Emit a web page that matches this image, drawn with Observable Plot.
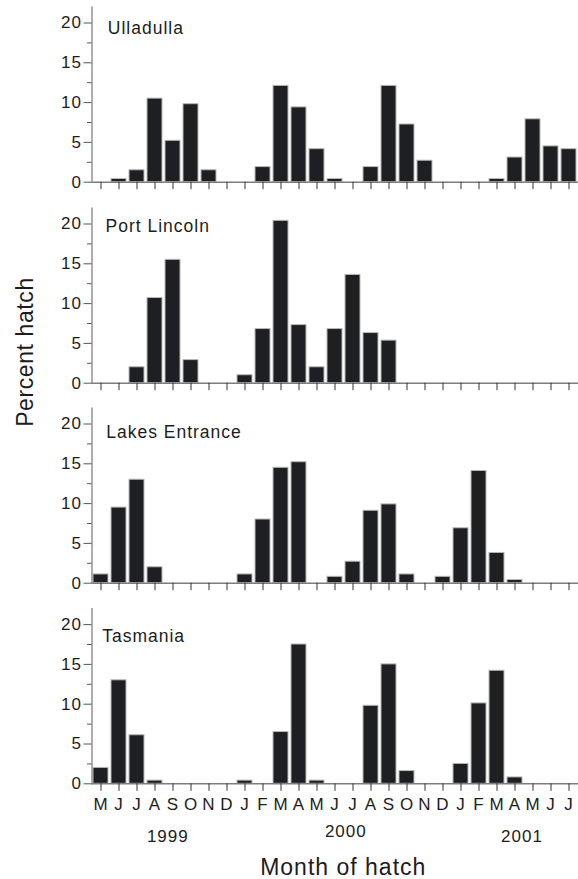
<!DOCTYPE html>
<html>
<head>
<meta charset="utf-8">
<script src="https://cdn.jsdelivr.net/npm/d3@7"></script>
<script src="https://cdn.jsdelivr.net/npm/@observablehq/plot@0.6"></script>
<style>
  body { margin: 0; background: #fff; }
  #wrap { position: relative; width: 578px; height: 879px; overflow: hidden; font-family: "Liberation Sans", Arial, sans-serif; color: #1c1c1c; }
  #wrap > svg { position: absolute; left: 0; }
  #ylab { position: absolute; left: 25px; top: 352px; transform: translate(-50%, -50%) rotate(-90deg); font-size: 23px; white-space: nowrap; letter-spacing: 0.6px; }
</style>
</head>
<body>
<div id="wrap"><div id="ylab">Percent hatch</div></div>
<script>
// ---- data ----
const months = ["M","J","J","A","S","O","N","D","J","F","M","A","M","J","J","A","S","O","N","D","J","F","M","A","M","J","J"];
const sites = ["Ulladulla", "Port Lincoln", "Lakes Entrance", "Tasmania"];
const ulladulla   = [0, 0.4, 1.5, 10.5, 5.2, 9.8, 1.5, 0, 0, 1.9, 12.1, 9.4, 4.15, 0.4, 0, 1.9, 12.1, 7.25, 2.7, 0, 0, 0, 0.4, 3.1, 7.9, 4.5, 4.15];
const portLincoln = [0, 0, 2.0, 10.7, 15.5, 2.9, 0, 0, 1.0, 6.8, 20.4, 7.3, 2.0, 6.8, 13.6, 6.3, 5.35, 0, 0, 0, 0, 0, 0, 0, 0, 0, 0];
const lakesEntrance = [1.1, 9.5, 13.0, 2.0, 0, 0, 0, 0, 1.1, 8.0, 14.5, 15.2, 0, 0.8, 2.7, 9.1, 9.9, 1.1, 0, 0.8, 6.9, 14.1, 3.8, 0.4, 0, 0, 0];
const tasmania    = [2.0, 13.0, 6.1, 0.4, 0, 0, 0, 0, 0.4, 0, 6.5, 17.5, 0.4, 0, 0, 9.8, 15.0, 1.6, 0, 0, 2.5, 10.1, 14.2, 0.8, 0, 0, 0];
const seriesValues = [ulladulla, portLincoln, lakesEntrance, tasmania];
const yMajorTicks = [0, 5, 10, 15, 20];
const yMinorTicks = [2.5, 7.5, 12.5, 17.5];
const years = ["1999", "2000", "2001"];
const yearMonthIndex = [3, 13, 23];
const xTitle = "Month of hatch";

// ---- layout (styling only) ----
const panelTop = [0, 201, 401, 601];
const panelHeight = [200, 200, 200, 278];
const panelBaseline = [181.7, 181.7, 181.7, 182.3];
const pxPerUnit = 7.96;
const yMax = 22;
const labelOffset = [[15.8, 27.3], [13.5, 24], [14.2, 29.7], [10.2, 33]];
const yearOffset = [[12.8, 58], [10.8, 53.4], [7, 58.4]];
const mLeft = 91.5;

const wrap = document.getElementById("wrap");

seriesValues.forEach((vals, k) => {
  const data = vals.map((v, i) => ({i, v})).filter(d => d.v > 0);
  const isLast = k === seriesValues.length - 1;
  const H = panelHeight[k];
  const base = panelBaseline[k];
  const mBottom = H - base;
  const mTop = base - yMax * pxPerUnit;
  const marks = [
    Plot.barY(data, {x: "i", y: "v", fill: "#1e1f23", stroke: "#b8b8b8", strokeWidth: 1}),
    Plot.ruleY([0], {stroke: "#7d7d7d", strokeWidth: 1.4}),
    Plot.frame({anchor: "left", stroke: "#8a8a8a", strokeWidth: 1.4}),
    Plot.axisY({ticks: yMajorTicks, label: null, tickSize: 8, tickPadding: 2, stroke: "#555", fontSize: 17, tickFormat: d => d}),
    Plot.axisY({ticks: yMinorTicks, label: null, tickSize: 4.5, stroke: "#555", tickFormat: () => ""}),
    Plot.axisX({label: null, tickSize: 7.5, tickPadding: 7, stroke: "#333", fontSize: 17,
      tickFormat: isLast ? (i => months[i]) : (() => "")}),
    Plot.text([sites[k]], {frameAnchor: "top-left", textAnchor: "start", lineAnchor: "bottom",
      dx: labelOffset[k][0], dy: labelOffset[k][1], fontSize: 17.5, fill: "#1c1c1c"})
  ];
  if (isLast) {
    years.forEach((yr, j) => {
      marks.push(Plot.text([yr], {x: () => yearMonthIndex[j], frameAnchor: "bottom", lineAnchor: "bottom",
        dx: yearOffset[j][0], dy: yearOffset[j][1], fontSize: 17, fill: "#1c1c1c"}));
    });
    marks.push(Plot.text([xTitle], {frameAnchor: "bottom", lineAnchor: "bottom", dx: 8, dy: 91.4,
      fontSize: 23, fill: "#1c1c1c", style: "letter-spacing:1.6px"}));
  }
  const chart = Plot.plot({
    width: 578,
    height: H,
    marginLeft: mLeft,
    marginRight: 0,
    marginTop: mTop,
    marginBottom: mBottom,
    x: {type: "band", domain: d3.range(months.length), paddingInner: 0.16, paddingOuter: 0.08, axis: null, label: null},
    y: {domain: [0, yMax], axis: null, label: null},
    style: {fontFamily: "'Liberation Sans', Arial, sans-serif", fontSize: "17px", color: "#1c1c1c", background: "transparent", overflow: "visible", letterSpacing: "1px"},
    marks
  });
  chart.style.top = panelTop[k] + "px";
  wrap.appendChild(chart);
});
</script>
</body>
</html>
